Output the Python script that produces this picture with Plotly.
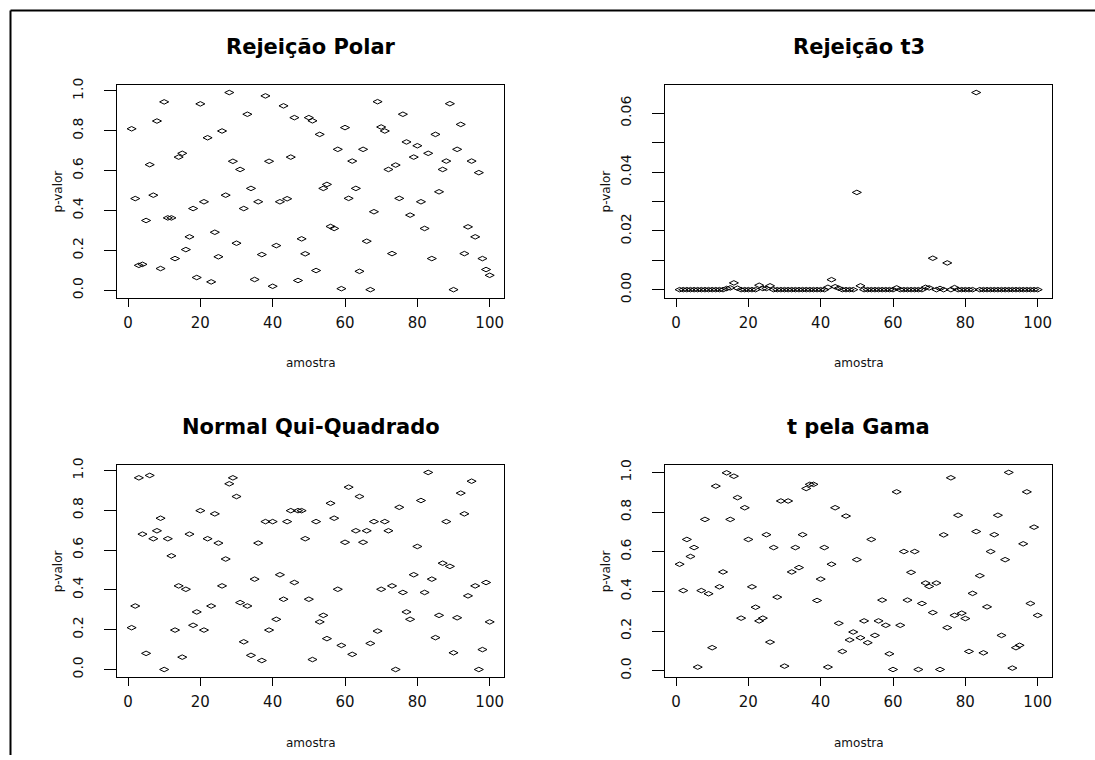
import plotly.graph_objects as go

# ---------------- data ----------------
amostra = list(range(1, 101))

rejeicao_polar = [
    0.81, 0.46, 0.125, 0.13, 0.35, 0.63, 0.477, 0.849, 0.109, 0.945,
    0.363, 0.363, 0.159, 0.668, 0.687, 0.204, 0.268, 0.41, 0.064, 0.935,
    0.444, 0.765, 0.042, 0.291, 0.168, 0.799, 0.477, 0.992, 0.647, 0.236,
    0.606, 0.41, 0.883, 0.511, 0.054, 0.444, 0.179, 0.975, 0.647, 0.02,
    0.224, 0.444, 0.925, 0.459, 0.668, 0.866, 0.049, 0.258, 0.183, 0.866,
    0.85, 0.099, 0.782, 0.511, 0.531, 0.32, 0.31, 0.707, 0.008, 0.816,
    0.461, 0.648, 0.511, 0.095, 0.707, 0.246, 0.003, 0.394, 0.946, 0.819,
    0.799, 0.606, 0.184, 0.628, 0.461, 0.883, 0.744, 0.377, 0.668, 0.725,
    0.444, 0.31, 0.687, 0.159, 0.782, 0.494, 0.606, 0.648, 0.936, 0.003,
    0.707, 0.832, 0.184, 0.318, 0.648, 0.268, 0.59, 0.159, 0.104, 0.075,
]

rejeicao_t3 = [
    0, 0, 0, 0, 0, 0, 0, 0, 0, 0,
    0, 0, 0, 0.0004, 0.0006, 0.0023, 0.0005, 0, 0, 0,
    0, 0, 0.0015, 0.0004, 0.0004, 0.0013, 0, 0, 0, 0,
    0, 0, 0, 0, 0, 0, 0, 0, 0, 0,
    0, 0.0008, 0.0034, 0.001, 0.0005, 0, 0, 0, 0, 0.0331,
    0.0013, 0, 0, 0, 0, 0, 0, 0, 0, 0,
    0.0006, 0, 0, 0, 0, 0, 0, 0, 0.0008, 0.0006,
    0.0107, 0, 0.0004, 0, 0.0091, 0, 0.0007, 0, 0, 0,
    0, 0, 0.0671, 0, 0, 0, 0, 0, 0, 0,
    0, 0, 0, 0, 0, 0, 0, 0, 0, 0,
]

normal_qui_quadrado = [
    0.21, 0.319, 0.963, 0.68, 0.081, 0.975, 0.657, 0.697, 0.76, 0.0,
    0.657, 0.571, 0.198, 0.42, 0.062, 0.403, 0.68, 0.222, 0.289, 0.798,
    0.198, 0.657, 0.319, 0.782, 0.635, 0.42, 0.555, 0.933, 0.963, 0.869,
    0.336, 0.139, 0.319, 0.071, 0.454, 0.635, 0.045, 0.743, 0.198, 0.743,
    0.252, 0.476, 0.353, 0.743, 0.798, 0.437, 0.798, 0.798, 0.657, 0.353,
    0.05, 0.743, 0.239, 0.272, 0.155, 0.835, 0.76, 0.403, 0.121, 0.639,
    0.916, 0.076, 0.697, 0.869, 0.639, 0.697, 0.131, 0.743, 0.193, 0.403,
    0.743, 0.697, 0.42, 0.0, 0.815, 0.387, 0.289, 0.252, 0.476, 0.618,
    0.849, 0.387, 0.99, 0.454, 0.16, 0.272, 0.534, 0.743, 0.518, 0.084,
    0.26, 0.886, 0.782, 0.37, 0.946, 0.42, 0.0, 0.1, 0.437, 0.239,
]

t_pela_gama = [
    0.537, 0.404, 0.662, 0.576, 0.621, 0.018, 0.404, 0.763, 0.388, 0.116,
    0.931, 0.423, 0.498, 0.998, 0.763, 0.981, 0.873, 0.265, 0.822, 0.662,
    0.423, 0.32, 0.251, 0.265, 0.686, 0.144, 0.621, 0.371, 0.856, 0.023,
    0.856, 0.498, 0.621, 0.52, 0.686, 0.919, 0.94, 0.94, 0.354, 0.462,
    0.621, 0.018, 0.537, 0.822, 0.239, 0.097, 0.78, 0.155, 0.195, 0.56,
    0.166, 0.251, 0.141, 0.662, 0.178, 0.251, 0.356, 0.229, 0.085, 0.006,
    0.902, 0.229, 0.601, 0.356, 0.496, 0.601, 0.006, 0.339, 0.442, 0.425,
    0.293, 0.442, 0.006, 0.685, 0.217, 0.973, 0.279, 0.784, 0.29, 0.263,
    0.097, 0.39, 0.702, 0.479, 0.09, 0.322, 0.601, 0.686, 0.784, 0.178,
    0.56, 1.0, 0.013, 0.116, 0.128, 0.64, 0.902, 0.339, 0.724, 0.279,
]

titles = ["Rejeição Polar", "Rejeição t3", "Normal Qui-Quadrado", "t pela Gama"]
x_label = "amostra"
y_label = "p-valor"

x_tickvals = [0, 20, 40, 60, 80, 100]
y_tickvals_unit = [0.0, 0.2, 0.4, 0.6, 0.8, 1.0]
y_ticktext_unit = ["0.0", "0.2", "0.4", "0.6", "0.8", "1.0"]
y_tickvals_t3 = [0.0, 0.01, 0.02, 0.03, 0.04, 0.05, 0.06]
y_ticktext_t3 = ["0.00", "", "0.02", "", "0.04", "", "0.06"]

# ---------------- layout helpers ----------------
W, H = 1095, 760
FONT = "DejaVu Sans"
V_OFF, V_SCALE = 7.0, 0.98   # observed vertical placement of the page in the snapshot


def fx(p):
    return p / W


def fy(p):
    q = (p - V_OFF) / V_SCALE
    return 1 - q / H


def r_range(vals):
    lo, hi = min(vals), max(vals)
    d = (hi - lo) * 0.04
    return [lo - d, hi + d]


cols = [(117.3, 504.0), (665.3, 1052.0)]
rows = [(84.3, 296.3), (462.6, 674.5)]

panels = [
    (rejeicao_polar, y_tickvals_unit, y_ticktext_unit, 0, 0),
    (rejeicao_t3, y_tickvals_t3, y_ticktext_t3, 1, 0),
    (normal_qui_quadrado, y_tickvals_unit, y_ticktext_unit, 0, 1),
    (t_pela_gama, y_tickvals_unit, y_ticktext_unit, 1, 1),
]

fig = go.Figure()
layout = dict(
    width=W,
    height=H,
    margin=dict(l=0, r=0, t=0, b=0),
    paper_bgcolor="white",
    plot_bgcolor="white",
    showlegend=False,
    font=dict(family=FONT, color="#111"),
)

annotations = []
for k, (yvals, ytv, ytt, c, r) in enumerate(panels):
    n = "" if k == 0 else str(k + 1)
    x0, x1 = cols[c]
    y0, y1 = rows[r]
    fig.add_trace(
        go.Scatter(
            x=amostra,
            y=yvals,
            mode="markers",
            marker=dict(
                symbol="diamond-wide-open",
                size=6.5,
                color="black",
                line=dict(width=1, color="black"),
            ),
            xaxis="x" + n,
            yaxis="y" + n,
            hoverinfo="x+y",
        )
    )
    layout["xaxis" + n] = dict(
        domain=[fx(x0), fx(x1)],
        anchor="y" + n,
        range=r_range(amostra),
        tickmode="array",
        tickvals=x_tickvals,
        ticks="outside",
        ticklen=8,
        tickwidth=1,
        tickcolor="black",
        showline=True,
        linecolor="black",
        linewidth=1,
        mirror=True,
        showgrid=False,
        zeroline=False,
        tickfont=dict(family=FONT, size=15, color="#111"),
        ticklabelstandoff=3,
    )
    layout["yaxis" + n] = dict(
        domain=[fy(y1), fy(y0)],
        anchor="x" + n,
        range=r_range(yvals),
        tickmode="array",
        tickvals=ytv,
        ticktext=ytt,
        tickangle=-90,
        ticks="outside",
        ticklen=12,
        tickwidth=1,
        tickcolor="black",
        showline=True,
        linecolor="black",
        linewidth=1,
        mirror=True,
        showgrid=False,
        zeroline=False,
        tickfont=dict(family=FONT, size=14, color="#111"),
        ticklabelstandoff=16,
    )
    cx = (x0 + x1) / 2
    annotations.append(dict(
        text="<b>" + titles[k] + "</b>", x=fx(cx), y=fy(y0 - 37), xref="paper", yref="paper",
        showarrow=False, xanchor="center", yanchor="middle",
        font=dict(family=FONT, size=21, color="black"),
    ))
    annotations.append(dict(
        text=x_label, x=fx(cx), y=fy(y1 + 65), xref="paper", yref="paper",
        showarrow=False, xanchor="center", yanchor="middle",
        font=dict(family=FONT, size=12, color="#111"),
    ))
    annotations.append(dict(
        text=y_label, x=fx(x0 - 59), y=fy((y0 + y1) / 2), xref="paper", yref="paper",
        showarrow=False, xanchor="center", yanchor="middle", textangle=-90,
        font=dict(family=FONT, size=12, color="#111"),
    ))

layout["annotations"] = annotations
layout["shapes"] = [
    dict(type="line", xref="paper", yref="paper", x0=fx(10.5), x1=1, y0=fy(10.5), y1=fy(10.5),
         line=dict(color="black", width=2)),
    dict(type="line", xref="paper", yref="paper", x0=fx(10.5), x1=fx(10.5), y0=fy(10.5), y1=0,
         line=dict(color="black", width=2)),
]
fig.update_layout(**layout)

fig.write_html(
    "out.html",
    config={"displayModeBar": False},
    post_script=(
        "document.documentElement.style.margin='0';"
        "document.body.style.margin='0';"
        "document.body.style.overflow='hidden';"
        "var d=document.getElementById('{plot_id}');"
        "d.style.position='fixed';d.style.left='0px';d.style.top='0px';"
    ),
)
